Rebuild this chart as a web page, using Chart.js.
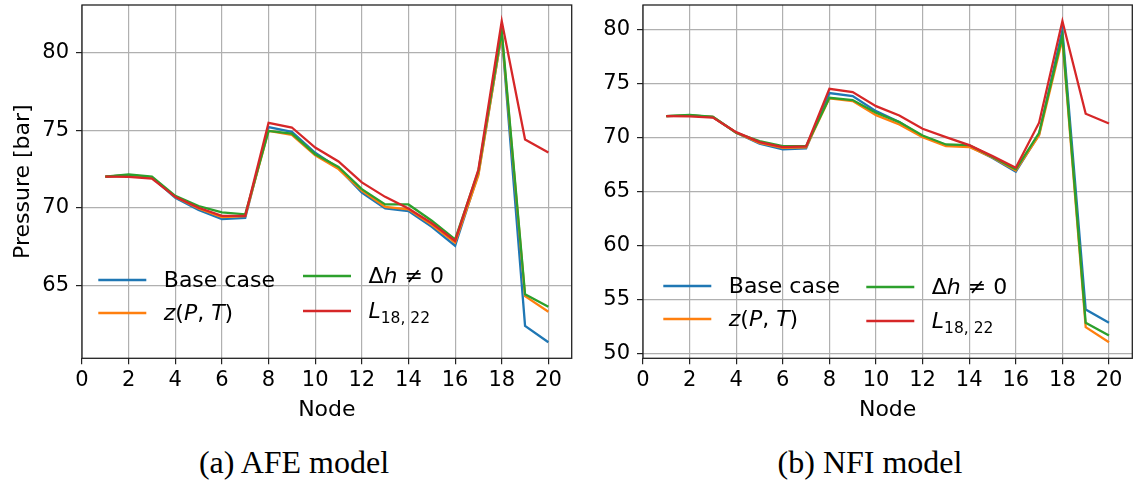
<!DOCTYPE html>
<html>
<head>
<meta charset="utf-8">
<script src="https://cdn.jsdelivr.net/npm/chart.js@4.4.0/dist/chart.umd.min.js"></script>
<style>
  body { margin: 0; background: #fff; width: 1137px; height: 483px; position: relative; overflow: hidden; }
  canvas { position: absolute; top: 0; }
  #afe { left: 0; }
  #nfi { left: 580px; }
  .cap { position: absolute; top: 446px; width: 400px; text-align: center; color: #000;
         font-family: "Liberation Serif", serif; font-size: 32px; line-height: 1; }
</style>
</head>
<body>
<canvas id="afe" width="580" height="430"></canvas>
<canvas id="nfi" width="557" height="430"></canvas>
<div class="cap" style="left:94px">(a) AFE model</div>
<div class="cap" style="left:670px">(b) NFI model</div>
<script>
// node numbers along the pipeline
const nodes = [1, 2, 3, 4, 5, 6, 7, 8, 9, 10, 11, 12, 13, 14, 15, 16, 17, 18, 19, 20]

// (a) AFE model, pressure in bar
const afeBase = [72.0, 72.1, 71.95, 70.64, 69.85, 69.27, 69.35, 75.2, 74.89, 73.54, 72.55, 70.98, 69.95, 69.78, 68.77, 67.55, 72.2, 81.2, 62.38, 61.33]
const afeZ = [72.0, 72.1, 71.95, 70.7, 69.95, 69.4, 69.45, 74.95, 74.7, 73.37, 72.49, 71.1, 70.06, 69.9, 68.9, 67.75, 72.1, 81.2, 64.3, 63.3]
const afeDh = [72.0, 72.14, 72.0, 70.77, 70.1, 69.7, 69.57, 74.95, 74.78, 73.45, 72.63, 71.2, 70.21, 70.21, 69.16, 67.96, 72.38, 81.4, 64.42, 63.62]
const afeL = [72.0, 71.99, 71.88, 70.7, 70.0, 69.48, 69.48, 75.47, 75.17, 73.88, 72.98, 71.63, 70.7, 69.95, 69.0, 67.86, 72.46, 82.03, 74.4, 73.56]

// (b) NFI model, pressure in bar
const nfiBase = [71.98, 72.05, 71.9, 70.44, 69.43, 68.9, 68.99, 74.11, 73.83, 72.44, 71.43, 70.1, 69.3, 69.2, 68.1, 66.84, 70.3, 79.94, 54.1, 52.87]
const nfiZ = [71.98, 72.05, 71.9, 70.44, 69.5, 69.05, 69.1, 73.63, 73.37, 72.07, 71.21, 70.04, 69.2, 69.12, 68.15, 66.95, 70.2, 79.1, 52.46, 51.07]
const nfiDh = [71.98, 72.1, 71.92, 70.44, 69.67, 69.21, 69.21, 73.68, 73.46, 72.29, 71.43, 70.19, 69.36, 69.3, 68.2, 67.06, 70.44, 79.38, 52.87, 51.7]
const nfiL = [71.98, 71.95, 71.85, 70.5, 69.58, 69.12, 69.18, 74.51, 74.2, 72.9, 72.04, 70.81, 70.04, 69.3, 68.28, 67.2, 71.37, 80.77, 72.2, 71.3]

const seriesNames = ['Base case', 'z(P, T)', 'Δh ≠ 0', 'L18, 22']
const xTicks = [0, 2, 4, 6, 8, 10, 12, 14, 16, 18, 20]
const afeYTicks = [65, 70, 75, 80]
const nfiYTicks = [50, 55, 60, 65, 70, 75, 80]

const colors = ['#1f77b4', '#ff7f0e', '#2ca02c', '#d62728']
// legend labels split in pieces: n = normal, i = italic (math), s = subscript
const legendText = [
	[['Base case', 'n']],
	[['z', 'i'], ['(', 'n'], ['P', 'i'], [', ', 'n'], ['T', 'i'], [')', 'n']],
	[['Δ', 'n'], ['h', 'i'], [' ≠ 0', 'n']],
	[['L', 'i'], ['18, 22', 's']]
]

const FONT = '"DejaVu Sans"'
const CANVAS_H = 430
const PLOT_BOTTOM = 358.3

const framePlugin = {
	id: 'frame',
	afterDatasetsDraw(chart) {
		const a = chart.chartArea, ctx = chart.ctx
		ctx.save()
		ctx.strokeStyle = '#222'
		ctx.lineWidth = 1.3
		ctx.strokeRect(a.left, a.top, a.right - a.left, a.bottom - a.top)
		ctx.restore()
	}
}

const legendPlugin = {
	id: 'mplLegend',
	afterDatasetsDraw(chart, args, opts) {
		const a = chart.chartArea, ctx = chart.ctx
		ctx.save()
		chart.data.datasets.forEach((ds, i) => {
			const p = opts.items[i]
			const x = a.left + p[0], y = a.bottom - p[1]
			ctx.strokeStyle = ds.borderColor
			ctx.lineWidth = ds.borderWidth
			ctx.beginPath()
			ctx.moveTo(x, y)
			ctx.lineTo(x + 48, y)
			ctx.stroke()
			let tx = x + 65.5
			ctx.fillStyle = '#000'
			ctx.textAlign = 'left'
			ctx.textBaseline = 'alphabetic'
			legendText[i].forEach(([t, s]) => {
				const size = s === 's' ? 15.5 : 22
				ctx.font = (s === 'i' ? 'italic ' : '') + size + 'px ' + FONT
				ctx.fillText(t, tx, y + 7 + (s === 's' ? 5 : 0))
				tx += ctx.measureText(t).width
			})
		})
		ctx.restore()
	}
}

function makeChart(id, series, yTicks, yTitle, yWidth, padRight, legendItems) {
	const all = series.flat()
	const lo = Math.min(...all), hi = Math.max(...all)
	const margin = (hi - lo) * 0.05

	return new Chart(document.getElementById(id).getContext('2d'), {
		type: 'line',
		data: {
			datasets: series.map((vals, i) => ({
				label: seriesNames[i],
				data: nodes.map((n, k) => ({ x: n, y: vals[k] })),
				borderColor: colors[i],
				backgroundColor: colors[i],
				borderWidth: 2.3,
				pointRadius: 0,
				tension: 0,
				order: series.length - i
			}))
		},
		options: {
			responsive: false,
			animation: false,
			events: [],
			layout: { padding: { top: 5, right: padRight, bottom: 0, left: 0 } },
			plugins: {
				legend: { display: false },
				tooltip: { enabled: false },
				mplLegend: { items: legendItems }
			},
			scales: {
				x: {
					type: 'linear',
					min: 0,
					max: 21,
					afterBuildTicks: s => { s.ticks = xTicks.map(v => ({ value: v })) },
					afterFit: s => {
						s.height = CANVAS_H - PLOT_BOTTOM
						s.paddingLeft = 0
						s.paddingRight = 0
					},
					grid: { color: '#b0b0b0', lineWidth: 1.2, tickColor: '#222', tickLength: 6, tickWidth: 1.2 },
					border: { display: false },
					ticks: { autoSkip: false, maxRotation: 0, color: '#000', padding: 4, font: { family: FONT, size: 21 } },
					title: { display: true, text: 'Node', color: '#000', font: { family: FONT, size: 22 }, padding: { top: 0, bottom: 7 } }
				},
				y: {
					min: lo - margin,
					max: hi + margin,
					afterBuildTicks: s => { s.ticks = yTicks.map(v => ({ value: v })) },
					afterFit: s => {
						s.width = yWidth
						s.paddingTop = 0
						s.paddingBottom = 0
					},
					grid: { color: '#b0b0b0', lineWidth: 1.2, tickColor: '#222', tickLength: 6, tickWidth: 1.2 },
					border: { display: false },
					ticks: { color: '#000', padding: 7, font: { family: FONT, size: 21 } },
					title: { display: !!yTitle, text: yTitle, color: '#000', font: { family: FONT, size: 22 }, padding: { top: 10, bottom: 0 } }
				}
			}
		},
		plugins: [framePlugin, legendPlugin]
	})
}

makeChart('afe', [afeBase, afeZ, afeDh, afeL], afeYTicks, 'Pressure [bar]', 82, 8.3,
	[[16.3, 78.3], [16.3, 45.3], [221, 82.3], [221, 47.3]])
makeChart('nfi', [nfiBase, nfiZ, nfiDh, nfiL], nfiYTicks, '', 63, 4.7,
	[[20.3, 72.3], [20.3, 39.3], [223.3, 71.3], [223.3, 37.3]])
</script>
</body>
</html>
